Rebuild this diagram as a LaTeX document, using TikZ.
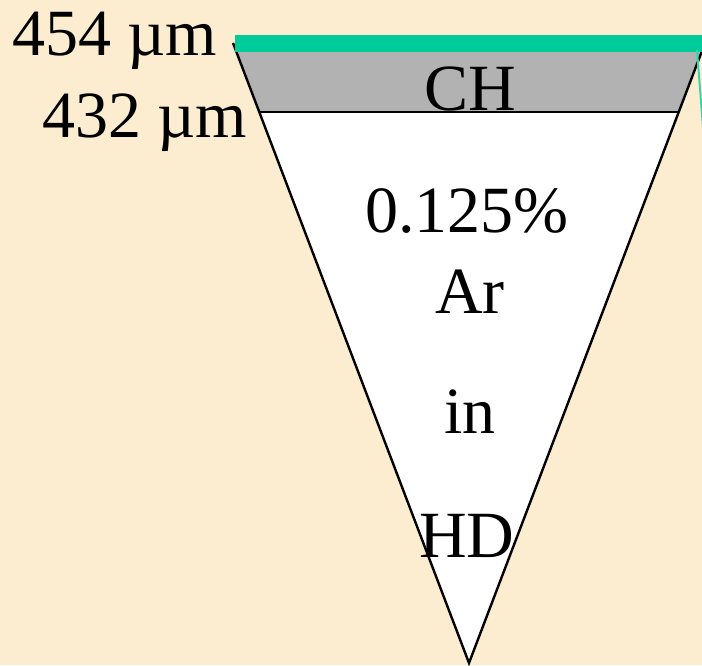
\documentclass[tikz,border=0pt]{standalone}
\usepackage{fontspec}
\setmainfont{Liberation Serif}
\definecolor{bg}{HTML}{FCEDD0}
\definecolor{band}{HTML}{00CC99}
\definecolor{chgray}{HTML}{B2B2B2}
\begin{document}
\begin{tikzpicture}[x=1pt,y=-1pt,
  lbl/.style={inner sep=0pt, font=\fontsize{66}{70}\selectfont}]
\useasboundingbox (0,0) rectangle (702,665);
\clip (0,0) rectangle (702,665);
\fill[bg] (0,0) rectangle (702,665);
\coordinate (TL) at (233,43);
\coordinate (TR) at (705,43);
\coordinate (A) at (469,663);
\coordinate (BL) at (259.3,112);
\coordinate (BR) at (678.7,112);
\fill[white] (TL) -- (TR) -- (A) -- cycle;
\fill[chgray] (TL) -- (TR) -- (BR) -- (BL) -- cycle;
\draw[line width=2.6pt] (BL) -- (BR);
\draw[line width=2.4pt, line join=miter] (TL) -- (A) -- (TR);
\fill[band] (235,35) rectangle (710,52);
\draw[band!80!white, line width=2pt] (697,50) -- (704,140);
\node[lbl, anchor=base west] (l454) at (12,55) {454 µm};
\node[lbl, anchor=base west] (l432) at (42,137) {432 µm};
\node[lbl, anchor=base] (ch) at (470,110) {CH};
\node[lbl, anchor=base] (pct) at (467,232) {0.125\%};
\node[lbl, anchor=base] (ar) at (470,313) {Ar};
\node[lbl, anchor=base] (in) at (470,433) {in};
\node[lbl, anchor=base] (hd) at (467,557) {HD};
\end{tikzpicture}
\end{document}
